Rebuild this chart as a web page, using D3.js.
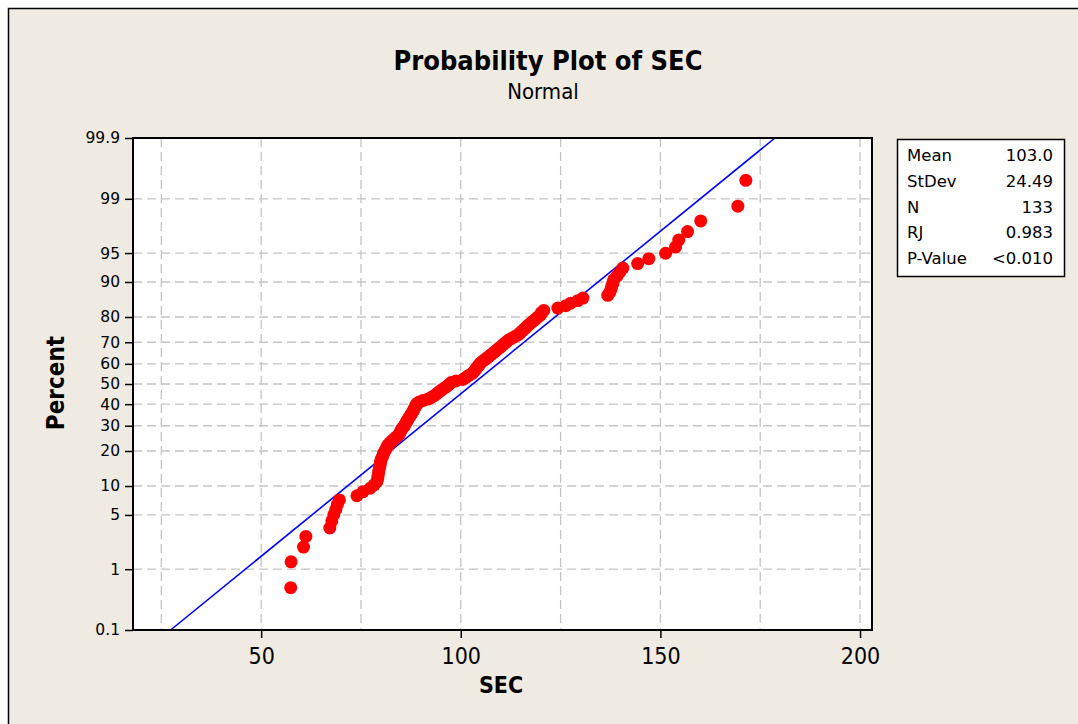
<!DOCTYPE html>
<html>
<head>
<meta charset="utf-8">
<script src="https://cdn.jsdelivr.net/npm/d3@7"></script>
<style>
  html, body { margin: 0; padding: 0; background: #ffffff; }
  svg { display: block; }
  text { font-family: "DejaVu Sans", sans-serif; fill: #000; }
  .cond { font-family: "DejaVu Sans Condensed", "DejaVu Sans", sans-serif; font-stretch: condensed; }
</style>
</head>
<body>
<svg id="chart" width="1078" height="724"></svg>
<script>
// ---------------- data ----------------
const seriesName = "SEC";
// sorted SEC observations (N = 133)
const secValues = [
  57.4, 57.5, 60.6, 61.2, 67.2, 67.7, 68.2, 68.7, 69.1, 69.6,
  74.0, 75.5, 77.3, 78.3, 79.0, 79.2, 79.3, 79.4, 79.5, 79.7,
  79.8, 79.9, 80.0, 80.3, 80.5, 80.7, 81.0, 81.3, 81.5, 81.8,
  82.3, 82.8, 83.3, 83.8, 84.4, 84.7, 84.9, 85.1, 85.4, 85.8,
  86.0, 86.3, 86.5, 86.7, 87.0, 87.3, 87.5, 87.8, 88.0, 88.2,
  88.4, 88.6, 88.8, 89.0, 89.6, 90.5, 91.8, 92.6, 93.2, 93.8,
  94.2, 94.7, 95.2, 95.7, 96.3, 96.8, 97.2, 97.6, 98.8, 100.5,
  101.1, 101.6, 102.2, 102.9, 103.2, 103.5, 103.8, 104.1, 104.4, 104.7,
  105.0, 105.5, 106.0, 106.5, 107.0, 107.5, 108.0, 108.5, 109.0, 109.5,
  110.0, 110.5, 111.0, 111.5, 112.0, 112.8, 113.6, 114.4, 114.9, 115.4,
  115.9, 116.4, 116.9, 117.5, 118.1, 118.7, 119.3, 120.0, 120.2, 120.8,
  124.3, 126.3, 127.5, 129.3, 130.6, 136.8, 137.3, 137.6, 137.8, 138.1,
  138.3, 139.1, 139.8, 140.6, 144.3, 147.1, 151.3, 153.8, 154.6, 156.8,
  160.1, 169.4, 171.4
];
const fitMean = 103.0;
const fitStDev = 24.49;
const statLabels = ["Mean", "StDev", "N", "RJ", "P-Value"];
const statValues = ["103.0", "24.49", "133", "0.983", "<0.010"];
const xTickValues = [50, 100, 150, 200];
const xGridValues = [25, 50, 75, 100, 125, 150, 175, 200];
const yTickPercents = [0.1, 1, 5, 10, 20, 30, 40, 50, 60, 70, 80, 90, 95, 99, 99.9];
const yTickLabels = ["0.1", "1", "5", "10", "20", "30", "40", "50", "60", "70", "80", "90", "95", "99", "99.9"];
const yGridPercents = [1, 5, 10, 20, 30, 40, 50, 60, 70, 80, 90, 95, 99];

// ---------------- helpers ----------------
// inverse standard normal CDF (Acklam)
function qnorm(p) {
  const a=[-3.969683028665376e+01,2.209460984245205e+02,-2.759285104469687e+02,1.383577518672690e+02,-3.066479806614716e+01,2.506628277459239e+00];
  const b=[-5.447609879822406e+01,1.615858368580409e+02,-1.556989798598866e+02,6.680131188771972e+01,-1.328068155288572e+01];
  const c=[-7.784894002430293e-03,-3.223964580411365e-01,-2.400758277161838e+00,-2.549732539343734e+00,4.374664141464968e+00,2.938163982698783e+00];
  const d=[7.784695709041462e-03,3.224671290700398e-01,2.445134137142996e+00,3.754408661907416e+00];
  const pl = 0.02425, ph = 1 - pl;
  if (p < pl) { const q = Math.sqrt(-2*Math.log(p)); return (((((c[0]*q+c[1])*q+c[2])*q+c[3])*q+c[4])*q+c[5])/((((d[0]*q+d[1])*q+d[2])*q+d[3])*q+1); }
  if (p <= ph) { const q = p-0.5, r = q*q; return (((((a[0]*r+a[1])*r+a[2])*r+a[3])*r+a[4])*r+a[5])*q/(((((b[0]*r+b[1])*r+b[2])*r+b[3])*r+b[4])*r+1); }
  const q = Math.sqrt(-2*Math.log(1-p)); return -(((((c[0]*q+c[1])*q+c[2])*q+c[3])*q+c[4])*q+c[5])/((((d[0]*q+d[1])*q+d[2])*q+d[3])*q+1);
}

// ---------------- layout ----------------
const svg = d3.select("#chart");
const plot = { left: 133, top: 138, right: 872, bottom: 630 };

// outer beige panel
svg.append("rect").attr("x", 8.5).attr("y", 8.5).attr("width", 1090).attr("height", 740)
  .attr("fill", "#efebe2").attr("stroke", "#000").attr("stroke-width", 1.5);

// scales
const x = d3.scaleLinear().domain([17.9, 203]).range([plot.left, plot.right]);
const y = d3.scaleLinear().domain([qnorm(0.001), qnorm(0.999)]).range([plot.bottom, plot.top]);

// plot background
svg.append("rect").attr("x", plot.left).attr("y", plot.top)
  .attr("width", plot.right - plot.left).attr("height", plot.bottom - plot.top)
  .attr("fill", "#ffffff");

// grid
const grid = svg.append("g").attr("stroke", "#c4c4c4").attr("stroke-width", 1.3).attr("stroke-dasharray", "9,5");
grid.selectAll("line.v").data(xGridValues).join("line").attr("class", "v")
  .attr("x1", d => x(d)).attr("x2", d => x(d)).attr("y1", plot.top).attr("y2", plot.bottom);
grid.selectAll("line.h").data(yGridPercents).join("line").attr("class", "h")
  .attr("x1", plot.left).attr("x2", plot.right)
  .attr("y1", d => y(qnorm(d / 100))).attr("y2", d => y(qnorm(d / 100)));

// fitted line
const zLo = qnorm(0.001), zHi = qnorm(0.999);
const fitPts = [zLo, zHi].map(z => [fitMean + fitStDev * z, z]);
svg.append("path").datum(fitPts)
  .attr("fill", "none").attr("stroke", "#0000ff").attr("stroke-width", 1.6)
  .attr("d", d3.line().x(d => x(d[0])).y(d => y(d[1])));

// points (median-rank plotting positions)
const n = secValues.length;
svg.append("g").selectAll("circle").data(secValues).join("circle")
  .attr("cx", d => x(d))
  .attr("cy", (d, i) => y(qnorm((i + 1 - 0.3) / (n + 0.4))))
  .attr("r", 6.5).attr("fill", "#ff0000");

// frame
svg.append("rect").attr("x", plot.left).attr("y", plot.top)
  .attr("width", plot.right - plot.left).attr("height", plot.bottom - plot.top)
  .attr("fill", "none").attr("stroke", "#000").attr("stroke-width", 2);

// axes
const xAxis = svg.append("g").attr("transform", `translate(0,${plot.bottom})`)
  .call(d3.axisBottom(x).tickValues(xTickValues).tickSize(8).tickPadding(6).tickFormat(d3.format("d")));
xAxis.select(".domain").remove();
xAxis.selectAll("line").attr("stroke", "#000").attr("stroke-width", 1.5);
xAxis.selectAll("text").attr("class", "cond").attr("font-size", 23).attr("dy", 0).attr("y", 34);

const yAxis = svg.append("g").attr("transform", `translate(${plot.left},0)`)
  .call(d3.axisLeft(y).tickValues(yTickPercents.map(p => qnorm(p / 100)))
    .tickSize(8).tickPadding(5).tickFormat((d, i) => yTickLabels[i]));
yAxis.select(".domain").remove();
yAxis.selectAll("line").attr("stroke", "#000").attr("stroke-width", 1.5);
yAxis.selectAll("text").attr("font-size", 15.5);

// titles
svg.append("text").attr("x", 548).attr("y", 70).attr("text-anchor", "middle").attr("class", "cond")
  .attr("font-size", 27).attr("font-weight", "bold").text("Probability Plot of " + seriesName);
svg.append("text").attr("x", 543).attr("y", 99).attr("text-anchor", "middle").attr("class", "cond")
  .attr("font-size", 22).text("Normal");
svg.append("text").attr("x", 501).attr("y", 693).attr("text-anchor", "middle").attr("class", "cond")
  .attr("font-size", 23).attr("font-weight", "bold").text(seriesName);
svg.append("text").attr("transform", "translate(64,383) rotate(-90)").attr("text-anchor", "middle").attr("class", "cond")
  .attr("font-size", 24).attr("font-weight", "bold").text("Percent");

// stats box
const box = { x: 897, y: 139, w: 167, h: 137 };
svg.append("rect").attr("x", box.x + 0.5).attr("y", box.y + 0.5).attr("width", box.w).attr("height", box.h)
  .attr("fill", "#ffffff").attr("stroke", "#000").attr("stroke-width", 1.5);
const rowY = d3.scalePoint().domain(statLabels).range([161, 264]);
svg.append("g").selectAll("text").data(statLabels).join("text")
  .attr("x", 907).attr("y", d => rowY(d)).attr("font-size", 16.5).text(d => d);
svg.append("g").selectAll("text").data(statValues).join("text")
  .attr("x", 1053).attr("y", (d, i) => rowY(statLabels[i])).attr("text-anchor", "end")
  .attr("font-size", 16.5).text(d => d);
</script>
</body>
</html>
